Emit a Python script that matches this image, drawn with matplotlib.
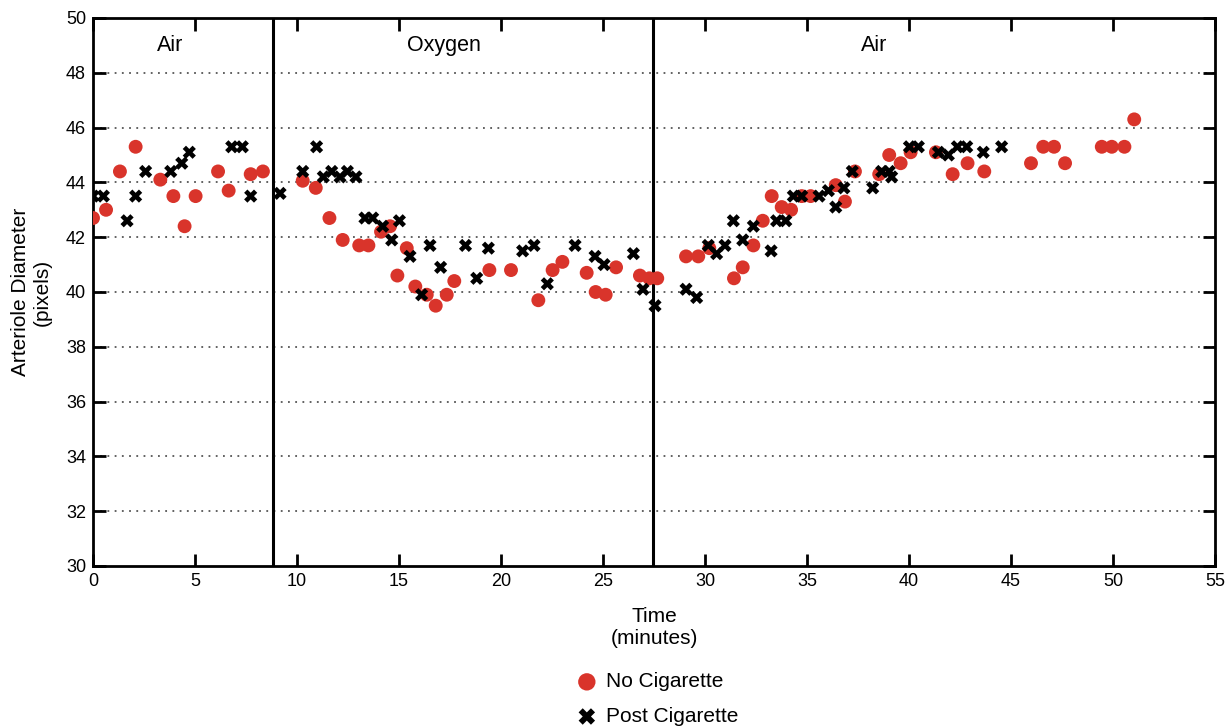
import numpy as np
import matplotlib.pyplot as plt

plt.rcParams['font.family'] = ['Liberation Sans', 'DejaVu Sans']

# No Cigarette (red circles)
no_cig_t = [0.0, 0.64, 1.32, 2.09, 3.30, 3.94, 4.49, 5.03, 6.13, 6.65, 7.73, 8.33,
            10.28, 10.92, 11.59, 12.24, 13.05, 13.50, 14.12, 14.56, 14.92, 15.38, 15.80,
            16.36, 16.80, 17.34, 17.71, 19.43, 20.49, 21.83, 22.53, 23.01, 24.20, 24.64,
            25.13, 25.64, 26.81, 27.27, 27.66,
            29.07, 29.67, 30.21, 31.42, 31.85, 32.37, 32.83, 33.27, 33.76, 34.22, 34.74,
            35.18, 36.41, 36.86, 37.35, 38.54, 39.03, 39.59, 40.08, 41.32, 42.14, 42.87,
            43.69, 45.98, 46.58, 47.11, 47.65, 49.45, 49.94, 50.56, 51.04]
no_cig_d = [42.7, 43.0, 44.4, 45.3, 44.1, 43.5, 42.4, 43.5, 44.4, 43.7, 44.3, 44.4,
            44.06, 43.8, 42.7, 41.9, 41.7, 41.7, 42.2, 42.4, 40.6, 41.6, 40.2,
            39.9, 39.5, 39.9, 40.4, 40.8, 40.8, 39.7, 40.8, 41.1, 40.7, 40.0,
            39.9, 40.9, 40.6, 40.5, 40.5,
            41.3, 41.3, 41.6, 40.5, 40.9, 41.7, 42.6, 43.5, 43.1, 43.0, 43.5,
            43.5, 43.9, 43.3, 44.4, 44.3, 45.0, 44.7, 45.1, 45.1, 44.3, 44.7,
            44.4, 44.7, 45.3, 45.3, 44.7, 45.3, 45.3, 45.3, 46.3]

# Post Cigarette (black crosses)
post_cig_t = [0.0, 0.51, 1.67, 2.09, 2.58, 3.81, 4.35, 4.72, 6.80, 7.32, 7.73,
              9.17, 10.28, 10.96, 11.29, 11.70, 12.11, 12.47, 12.89, 13.33, 13.71, 14.20,
              14.64, 15.02, 15.54, 16.11, 16.52, 17.04, 18.26, 18.81, 19.38, 21.06, 21.62,
              22.27, 23.63, 24.61, 25.05, 26.49, 26.96, 27.55,
              29.07, 29.59, 30.16, 30.57, 30.98, 31.39, 31.85, 32.37, 33.24, 33.51, 33.96,
              34.33, 34.74, 35.59, 36.05, 36.41, 36.81, 37.22, 38.22, 38.66, 39.03, 39.15,
              40.02, 40.46, 41.44, 41.93, 42.37, 42.83, 43.64, 44.54]
post_cig_d = [43.5, 43.5, 42.6, 43.5, 44.4, 44.4, 44.7, 45.1, 45.3, 45.3, 43.5,
              43.6, 44.4, 45.3, 44.2, 44.4, 44.2, 44.4, 44.2, 42.7, 42.7, 42.4,
              41.9, 42.6, 41.3, 39.9, 41.7, 40.9, 41.7, 40.5, 41.6, 41.5, 41.7,
              40.3, 41.7, 41.3, 41.0, 41.4, 40.1, 39.5,
              40.1, 39.8, 41.7, 41.4, 41.7, 42.6, 41.9, 42.4, 41.5, 42.6, 42.6,
              43.5, 43.5, 43.5, 43.7, 43.1, 43.8, 44.4, 43.8, 44.4, 44.4, 44.2,
              45.3, 45.3, 45.1, 45.0, 45.3, 45.3, 45.1, 45.3]

phase_bounds = [8.82, 27.47]
phase_names = ['Air', 'Oxygen', 'Air']
phase_label_x = [3.8, 17.2, 38.3]

fig = plt.figure(figsize=(12.3, 7.28), dpi=100)
ax = fig.add_axes([93 / 1230, 1 - 566 / 728, 1122 / 1230, 548 / 728])

for yv in range(32, 50, 2):
    ax.axhline(yv, color='#555555', lw=1.3, ls=(0, (1, 3)), zorder=0)

for xb in phase_bounds:
    ax.axvline(xb, color='black', lw=2.2, zorder=1)

for name, xl in zip(phase_names, phase_label_x):
    ax.text(xl, 49.0, name, ha='center', va='center', fontsize=15.5)

ax.scatter(no_cig_t, no_cig_d, s=100, color='#d9342b', edgecolors='none',
           label='No Cigarette', zorder=3)
ax.scatter(post_cig_t, post_cig_d, s=90, marker='X', color='black',
           edgecolors='none', label='Post Cigarette', zorder=4)

ax.set_xlim(0, 55)
ax.set_ylim(30, 50)
ax.set_xticks(np.arange(0, 56, 5))
ax.set_yticks(np.arange(30, 51, 2))
ax.tick_params(direction='in', length=9, width=2, labelsize=13,
               top=True, right=True, pad=5)
for sp in ax.spines.values():
    sp.set_linewidth(2)

ax.set_xlabel('Time\n(minutes)', fontsize=15, labelpad=12, linespacing=1.25)
ax.set_ylabel('Arteriole Diameter\n(pixels)', fontsize=15, labelpad=10, linespacing=1.2)

fig.legend(loc='upper left', bbox_to_anchor=(566 / 1230, 1 - 664 / 728),
           frameon=False, fontsize=15, handletextpad=0.3, labelspacing=0.75,
           borderaxespad=0, handlelength=1.2, markerscale=1.25)

fig.savefig('out.png', dpi=100)
